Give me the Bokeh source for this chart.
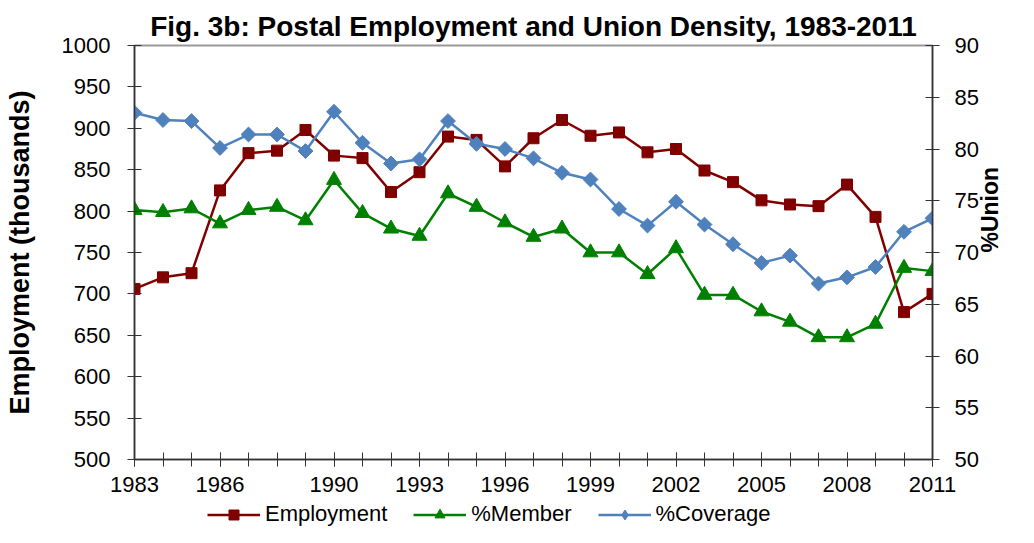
from bokeh.plotting import figure
from bokeh.layouts import column
from bokeh.models import LinearAxis, Range1d, FixedTicker, Legend, LegendItem
from bokeh.embed import file_html
from bokeh.resources import INLINE
import math

years = list(range(1983, 2012))
employment = [706, 720, 725, 825, 870, 873, 898, 867, 864, 823,
              847, 890, 886, 854, 888, 910, 891, 895, 871, 875,
              849, 835, 813, 808, 806, 832, 793, 678, 700]
member = [74.1, 73.9, 74.25, 72.8, 74.1, 74.4, 73.1, 77.0, 73.8, 72.3,
          71.6, 75.7, 74.4, 72.9, 71.5, 72.3, 70.0, 70.0, 67.9, 70.4,
          65.9, 65.9, 64.3, 63.3, 61.8, 61.8, 63.1, 68.5, 68.2]
coverage = [83.5, 82.8, 82.7, 80.1, 81.4, 81.4, 79.8, 83.6, 80.6, 78.6,
            79.0, 82.7, 80.5, 80.0, 79.1, 77.7, 77.05, 74.2, 72.6, 74.9,
            72.7, 70.8, 69.0, 69.7, 67.0, 67.6, 68.6, 72.0, 73.3]
tick_years = [1983, 1986, 1990, 1993, 1996, 1999, 2002, 2005, 2008, 2011]
left_ticks = list(range(500, 1001, 50))
right_ticks = list(range(50, 91, 5))
series_names = ["Employment", "%Member", "%Coverage"]

FONT = "Liberation Sans"
AX = "#333333"
RED = "#800000"
GREEN = "#008000"
BLUE = "#4F81BD"

p = figure(width=1018, height=502, output_backend="svg", toolbar_location=None,
           x_range=Range1d(1983, 2011), y_range=Range1d(500, 1000),
           min_border_left=134, min_border_right=83, min_border_top=45,
           min_border_bottom=43, background_fill_color="white",
           border_fill_color="white")
p.extra_y_ranges = {"right": Range1d(50, 90)}

p.title.text = "Fig. 3b: Postal Employment and Union Density, 1983-2011"
p.title.text_font = FONT
p.title.text_font_size = "28px"
p.title.text_font_style = "bold"
p.title.align = "center"
p.title.text_color = "black"
p.title.standoff = 8

p.grid.visible = False
p.outline_line_color = "#999999"
p.outline_line_width = 2

# x axis
xa = p.xaxis[0]
xa.ticker = FixedTicker(ticks=tick_years, minor_ticks=years)
xa.axis_line_color = AX
xa.axis_line_width = 1.5
xa.major_tick_line_color = AX
xa.minor_tick_line_color = AX
xa.major_tick_in = 7
xa.major_tick_out = 7
xa.minor_tick_in = 7
xa.minor_tick_out = 7
xa.major_label_text_font = FONT
xa.major_label_text_font_size = "22px"
xa.major_label_text_color = "black"
xa.major_label_standoff = 10

# left axis
ya = p.yaxis[0]
ya.ticker = FixedTicker(ticks=left_ticks)
ya.axis_label = "Employment (thousands)"
ya.axis_label_text_font = FONT
ya.axis_label_text_font_size = "27px"
ya.axis_label_text_font_style = "bold"
ya.axis_label_text_color = "black"
ya.axis_label_standoff = 24
ya.axis_line_color = AX
ya.axis_line_width = 1.5
ya.major_tick_line_color = AX
ya.minor_tick_line_color = None
ya.major_tick_in = 7
ya.major_tick_out = 7
ya.major_label_text_font = FONT
ya.major_label_text_font_size = "22px"
ya.major_label_text_color = "black"
ya.major_label_standoff = 17

# right axis
ra = LinearAxis(y_range_name="right", ticker=FixedTicker(ticks=right_ticks))
ra.axis_label = "%Union"
ra.axis_label_text_font = FONT
ra.axis_label_text_font_size = "23px"
ra.axis_label_text_font_style = "bold"
ra.axis_label_text_color = "black"
ra.axis_label_orientation = math.pi / 2
ra.axis_label_standoff = 8
ra.axis_line_color = AX
ra.axis_line_width = 1.5
ra.major_tick_line_color = AX
ra.minor_tick_line_color = None
ra.major_tick_in = 7
ra.major_tick_out = 7
ra.major_label_text_font = FONT
ra.major_label_text_font_size = "22px"
ra.major_label_text_color = "black"
ra.major_label_standoff = 15
p.add_layout(ra, "right")

p.line(years, employment, line_color=RED, line_width=2.5)
p.scatter(years, employment, marker="square", size=11, fill_color=RED, line_color=RED)
p.line(years, member, line_color=GREEN, line_width=2.5, y_range_name="right")
p.scatter(years, member, marker="triangle", size=15, fill_color=GREEN, line_color=GREEN,
          y_range_name="right")
p.line(years, coverage, line_color=BLUE, line_width=2.5, y_range_name="right")
p.scatter(years, coverage, marker="square", angle=math.pi / 4, size=10.5,
          fill_color=BLUE, line_color=BLUE, y_range_name="right")

# legend strip below the chart (separate figure so the legend sits outside the
# chart frame); its series are drawn outside its own (hidden) ranges.
q = figure(width=1018, height=25, output_backend="svg", toolbar_location=None,
           x_range=Range1d(0, 1), y_range=Range1d(0, 1),
           min_border_left=134, min_border_right=83, min_border_top=0, min_border_bottom=0,
           background_fill_color="white", border_fill_color="white")
q.axis.visible = False
q.grid.visible = False
q.outline_line_color = None

series_values = [employment, member, coverage]
styles = [(RED, "square"), (GREEN, "triangle"), (BLUE, "diamond")]
items = []
for name, vals, (col, mk) in zip(series_names, series_values, styles):
    lr = q.line(years, vals, line_color=col, line_width=2.5)
    sr = q.scatter(years, vals, marker=mk, size=12, fill_color=col, line_color=col)
    items.append(LegendItem(label=name, renderers=[lr, sr]))

legend = Legend(items=items, location=(73, 0), orientation="horizontal",
                glyph_width=53, glyph_height=25, label_standoff=5, spacing=26,
                padding=0, margin=0, border_line_color=None,
                background_fill_alpha=0,
                label_text_font=FONT, label_text_font_size="22px",
                label_text_color="black")
q.add_layout(legend)

layout = column(p, q, spacing=0)
open("out.html", "w").write(file_html(layout, INLINE))
